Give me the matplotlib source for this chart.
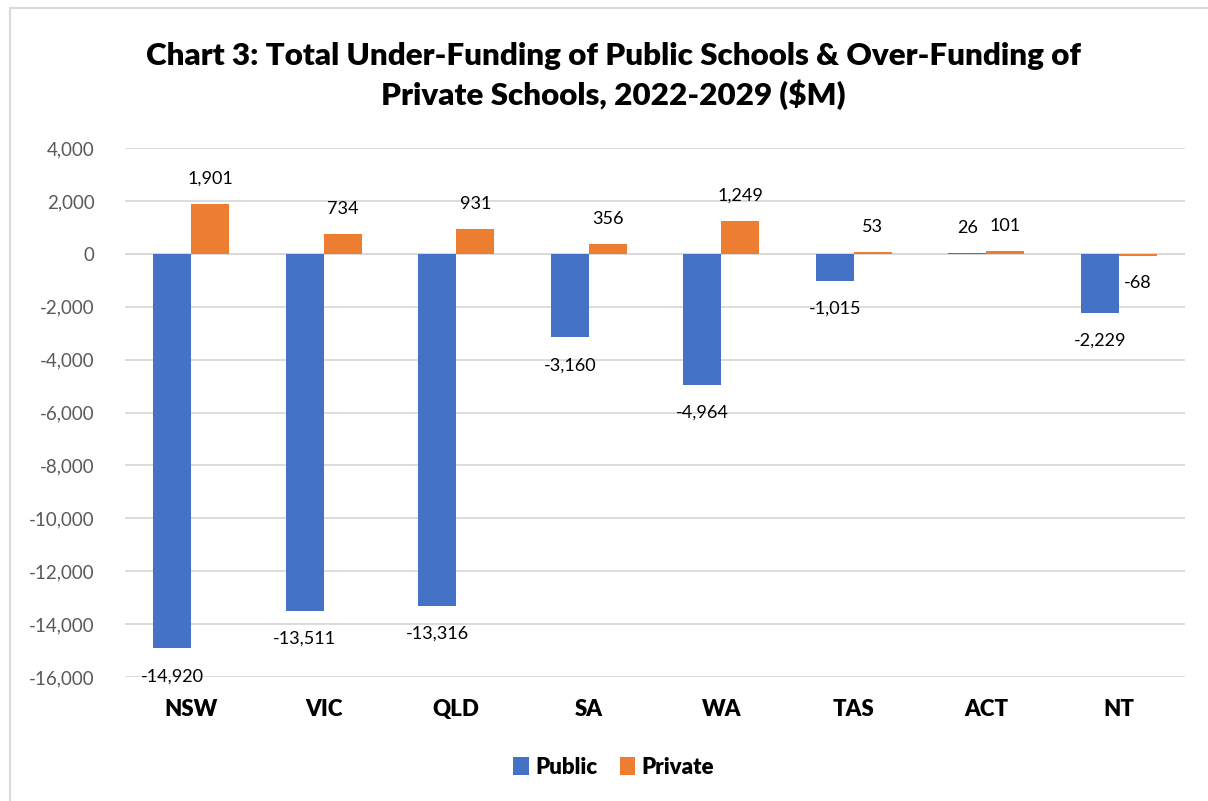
import matplotlib.pyplot as plt
import numpy as np
from matplotlib.patches import Rectangle

states = ["NSW", "VIC", "QLD", "SA", "WA", "TAS", "ACT", "NT"]
public = [-14920, -13511, -13316, -3160, -4964, -1015, 26, -2229]
private = [1901, 734, 931, 356, 1249, 53, 101, -68]

blue = "#4472C4"
orange = "#ED7D31"
font = "Lato"

fig = plt.figure(figsize=(12.08, 8.01), dpi=100)
ax = fig.add_axes([0.1035, 0.1548, 0.8775, 0.6604])

# chart frame like Excel
fig.patches.append(Rectangle((10 / 1208, -0.05), 1.2, 1 - 8 / 801 + 0.05,
                             transform=fig.transFigure, fill=False,
                             edgecolor="#D9D9D9", linewidth=1.5))

x = np.arange(len(states))
w = 0.287
ax.bar(x - w / 2, public, w, color=blue, label="Public", zorder=3)
ax.bar(x + w / 2, private, w, color=orange, label="Private", zorder=3)

def put_labels(xs, vals):
    for xi, v in zip(xs, vals):
        off = 18 if v >= 0 else -20
        ax.annotate(f"{v:,}", (xi, v), xytext=(0, off), textcoords="offset points",
                    ha="center", va="center", fontsize=13, family=font, color="#000000")

put_labels(x - w / 2, public)
put_labels(x + w / 2, private)

ax.set_xlim(-0.5, len(states) - 0.5)
ax.set_ylim(-16000, 4000)
ax.set_yticks(range(-16000, 4001, 2000))
ax.set_yticklabels([f"{t:,}" for t in range(-16000, 4001, 2000)],
                   fontsize=13.5, family=font, color="#595959")
ax.yaxis.grid(True, color="#D9D9D9", linewidth=1.3, zorder=0)
ax.tick_params(axis="y", length=0, pad=22)
ax.tick_params(axis="x", length=0, pad=16)
ax.set_xticks(x)
ax.set_xticklabels(states, fontsize=16, family=font, fontweight="heavy")
for s in ax.spines.values():
    s.set_visible(False)
ax.axhline(0, color="#D9D9D9", linewidth=1.3, zorder=1)

fig.text(0.508, 0.905, "Chart 3: Total Under-Funding of Public Schools & Over-Funding of\nPrivate Schools, 2022-2029 ($M)",
         ha="center", va="center", fontsize=22.6, fontweight="heavy", family=font,
         linespacing=1.35)

fig.legend(loc="center", bbox_to_anchor=(0.508, 0.042), ncol=2, frameon=False,
           prop={"family": font, "weight": "heavy", "size": 16},
           handlelength=0.7, handleheight=0.9, handletextpad=0.3, columnspacing=1.0)

fig.savefig("out.png", dpi=100)
